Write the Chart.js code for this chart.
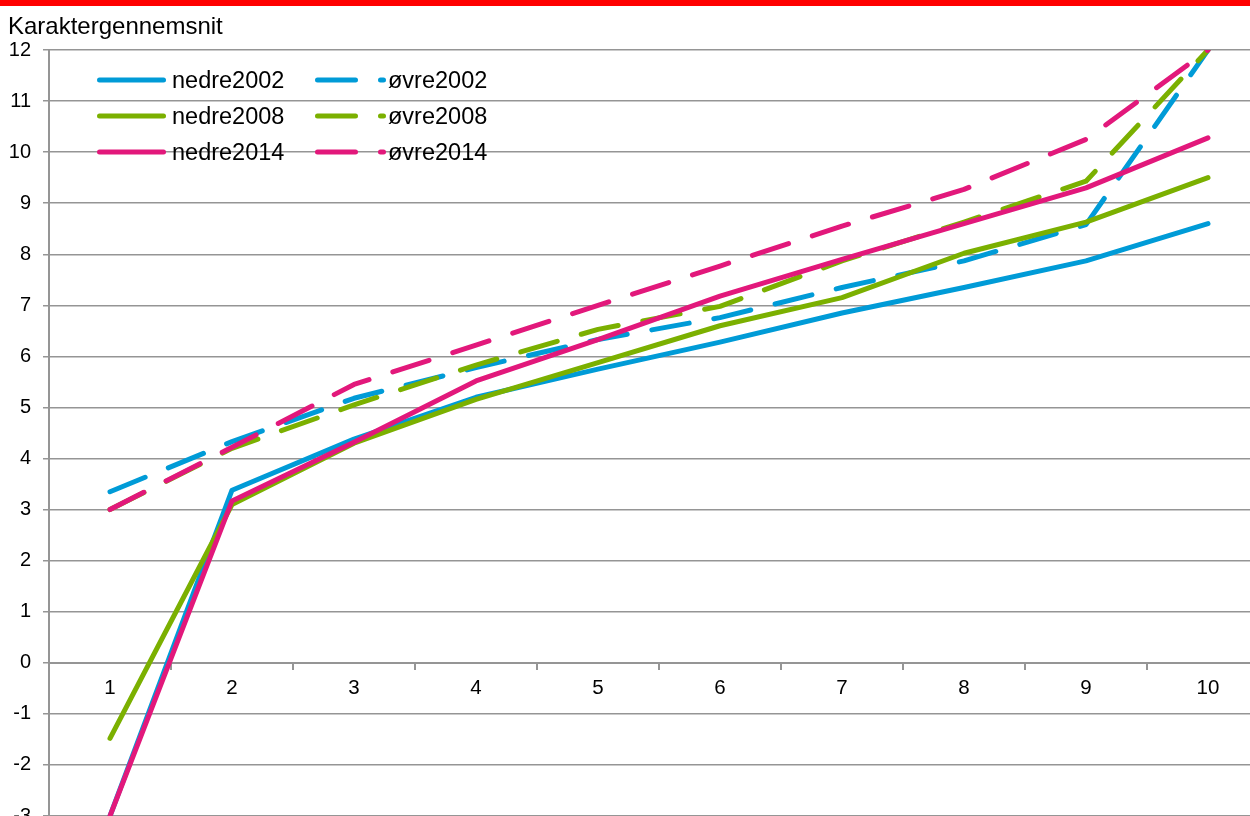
<!DOCTYPE html>
<html>
<head>
<meta charset="utf-8">
<script src="https://cdn.jsdelivr.net/npm/chart.js@4.4.1/dist/chart.umd.min.js"></script>
<style>
  html, body { margin: 0; padding: 0; background: #fff; overflow: hidden; }
  #band { position: absolute; left: 0; top: 0; width: 1250px; height: 6px; background: #ff0000; z-index: 2; }
  #wrap { position: absolute; left: 0; top: 0; width: 1270px; height: 840px; }
</style>
</head>
<body>
<div id="band"></div>
<div id="wrap"><canvas id="chart"></canvas></div>
<script>
// data
const categories = ['1', '2', '3', '4', '5', '6', '7', '8', '9', '10'];
const nedre2002 = [-3, 3.38, 4.38, 5.2, 5.75, 6.28, 6.85, 7.35, 7.87, 8.6];
const ovre2002  = [3.35, 4.33, 5.18, 5.78, 6.33, 6.76, 7.35, 7.87, 8.58, 12];
const nedre2008 = [-1.48, 3.1, 4.3, 5.16, 5.88, 6.6, 7.15, 8.02, 8.63, 9.5];
const ovre2008  = [3.0, 4.2, 5.05, 5.83, 6.53, 6.98, 7.87, 8.63, 9.43, 12];
const nedre2014 = [-3, 3.17, 4.32, 5.52, 6.33, 7.18, 7.9, 8.6, 9.3, 10.28];
const ovre2014  = [3.0, 4.22, 5.45, 6.22, 7.0, 7.77, 8.55, 9.27, 10.25, 12];
const yMin = -3, yMax = 12, yStep = 1;
const yTitle = 'Karaktergennemsnit';

const BLUE = '#009bd7', GREEN = '#7bb000', PINK = '#e2187b';
const GRID = '#959595';
const DASH = [38, 25];

Chart.defaults.font.family = '"Liberation Sans", Arial, sans-serif';
Chart.defaults.color = '#000';

function line(label, data, color, dashed, order) {
    return {
        label, data,
        borderColor: color,
        backgroundColor: color,
        borderWidth: 5,
        borderDash: dashed ? DASH : [],
        borderCapStyle: 'round',
        borderJoinStyle: 'round',
        pointRadius: 0,
        tension: 0,
        fill: false,
        order
    };
}

// title + legend drawn inside the plot, like the original
const cornerLegend = {
    id: 'cornerLegend',
    afterDraw(chart) {
        const ctx = chart.ctx;
        ctx.save();
        ctx.fillStyle = '#000';
        ctx.textBaseline = 'alphabetic';
        ctx.font = '24px "Liberation Sans", Arial, sans-serif';
        ctx.fillText(yTitle, 8, 34);

        ctx.font = '23.5px "Liberation Sans", Arial, sans-serif';
        chart.data.datasets.forEach((ds, i) => {
            const col = i % 2, row = Math.floor(i / 2);
            const x0 = col === 0 ? 99.5 : 317.5;
            const len = col === 0 ? 64 : 66;
            const y = 80 + row * 36;
            ctx.strokeStyle = ds.borderColor;
            ctx.lineWidth = 5;
            ctx.lineCap = 'round';
            ctx.setLineDash(ds.borderDash);
            ctx.beginPath();
            ctx.moveTo(x0, y);
            ctx.lineTo(x0 + len, y);
            ctx.stroke();
            ctx.setLineDash([]);
            ctx.fillText(ds.label, col === 0 ? 172 : 388, y + 7.5);
        });
        ctx.restore();
    }
};

new Chart(document.getElementById('chart'), {
    type: 'line',
    data: {
        labels: categories,
        datasets: [
            line('nedre2002', nedre2002, BLUE, false, 5),
            line('øvre2002', ovre2002, BLUE, true, 4),
            line('nedre2008', nedre2008, GREEN, false, 3),
            line('øvre2008', ovre2008, GREEN, true, 2),
            line('nedre2014', nedre2014, PINK, false, 1),
            line('øvre2014', ovre2014, PINK, true, 0)
        ]
    },
    options: {
        responsive: true,
        maintainAspectRatio: false,
        animation: false,
        layout: { padding: { top: 50, right: 1, bottom: 15, left: 0 } },
        plugins: {
            legend: { display: false },
            title: { display: false },
            tooltip: { enabled: false }
        },
        scales: {
            x: {
                type: 'category',
                position: { y: 0 },
                offset: true,
                grid: { drawOnChartArea: false, offset: true, tickLength: 6, color: GRID, lineWidth: 2 },
                border: { color: GRID, width: 2 },
                ticks: { font: { size: 20.5 }, padding: 7, maxRotation: 0, autoSkip: false }
            },
            y: {
                min: yMin,
                max: yMax,
                ticks: { stepSize: yStep, font: { size: 20 }, padding: 12 },
                grid: { color: GRID, lineWidth: 1.5, tickLength: 6 },
                border: { color: GRID, width: 2 },
                afterFit(scale) { scale.width = 49; }
            }
        }
    },
    plugins: [cornerLegend]
});
</script>
</body>
</html>
